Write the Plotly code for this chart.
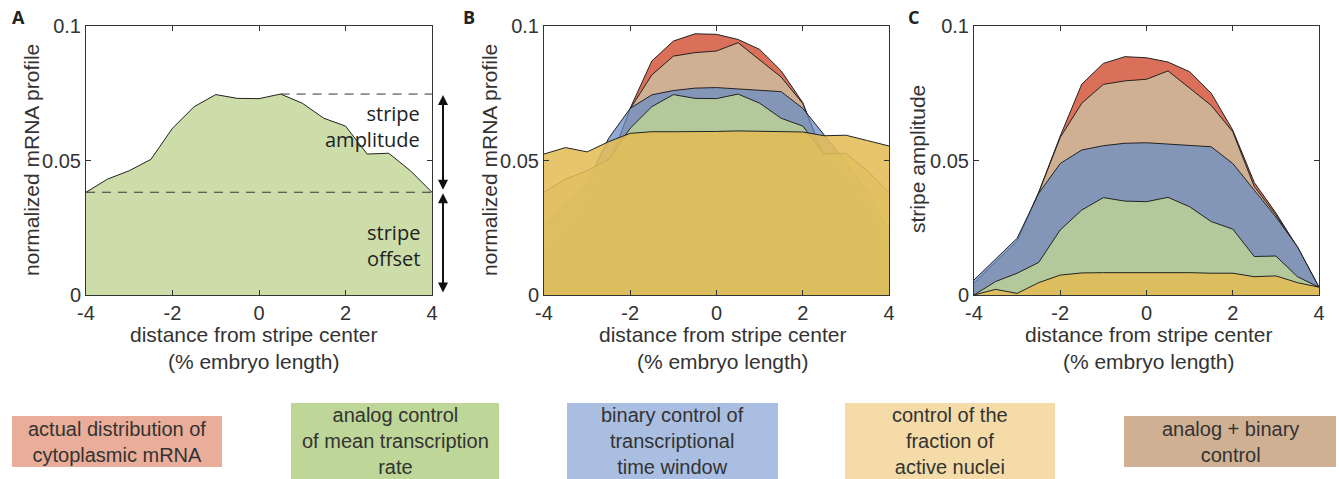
import plotly.graph_objects as go

W, H = 1339, 479

# ---------------- data ----------------
x_pos = [-4, -3.5, -3, -2.5, -2, -1.5, -1, -0.5, 0, 0.5, 1, 1.5, 2, 2.5, 3, 3.5, 4]

# Panel A / B: analog control profile
profile_analog = [0.0382, 0.0431, 0.0462, 0.0504, 0.0620, 0.0700, 0.0745, 0.0731, 0.0730,
                  0.0747, 0.0713, 0.0657, 0.0628, 0.0524, 0.0527, 0.0462, 0.0382]
stripe_offset = 0.0382
stripe_top = 0.0747
stripe_top_x = 0.5

# Panel B profiles
profile_actual = [0.0135, 0.0210, 0.0290, 0.0470, 0.0695, 0.0870, 0.0944, 0.0971, 0.0969,
                  0.0950, 0.0913, 0.0833, 0.0715, 0.0510, 0.0395, 0.0262, 0.0114]
profile_combined = [0.0150, 0.0227, 0.0305, 0.0485, 0.0692, 0.0818, 0.0888, 0.0901, 0.0907,
                    0.0938, 0.0873, 0.0810, 0.0712, 0.0508, 0.0403, 0.0282, 0.0134]
profile_binary = [0.0261, 0.0338, 0.0416, 0.0583, 0.0694, 0.0744, 0.0760, 0.0769, 0.0771,
                  0.0766, 0.0761, 0.0756, 0.0694, 0.0593, 0.0495, 0.0385, 0.0234]
profile_fraction = [0.0524, 0.0548, 0.0532, 0.0570, 0.0601, 0.0607, 0.0607, 0.0607, 0.0608,
                    0.0610, 0.0609, 0.0606, 0.0606, 0.0592, 0.0594, 0.0574, 0.0554]

# Panel C amplitudes
amp_actual = [0.0045, 0.0122, 0.0200, 0.0382, 0.0591, 0.0784, 0.0861, 0.0886, 0.0882,
              0.0866, 0.0830, 0.0750, 0.0613, 0.0418, 0.0305, 0.0178, 0.0029]
amp_combined = [0.0045, 0.0122, 0.0200, 0.0380, 0.0586, 0.0713, 0.0783, 0.0796, 0.0802,
                0.0833, 0.0768, 0.0705, 0.0607, 0.0403, 0.0298, 0.0177, 0.0029]
amp_binary = [0.0056, 0.0133, 0.0211, 0.0378, 0.0489, 0.0539, 0.0555, 0.0564, 0.0566,
              0.0561, 0.0556, 0.0551, 0.0489, 0.0388, 0.0290, 0.0180, 0.0029]
amp_analog = [0.0000, 0.0050, 0.0081, 0.0121, 0.0242, 0.0316, 0.0362, 0.0349, 0.0347,
              0.0363, 0.0328, 0.0273, 0.0245, 0.0143, 0.0145, 0.0068, 0.0029]
amp_fraction = [0.0000, 0.0021, 0.0006, 0.0046, 0.0074, 0.0082, 0.0083, 0.0083, 0.0084,
                0.0084, 0.0083, 0.0081, 0.0081, 0.0068, 0.0071, 0.0046, 0.0029]

x_ticks = [-4, -2, 0, 2, 4]
x_tick_text = ["-4", "-2", "0", "2", "4"]
y_ticks = [0, 0.05, 0.1]
y_tick_text = ["0", "0.05", "0.1"]

legend_labels = [
    "actual distribution of<br>cytoplasmic mRNA",
    "analog control<br>of mean transcription<br>rate",
    "binary control of<br>transcriptional<br>time window",
    "control of the<br>fraction of<br>active nuclei",
    "analog + binary<br>control",
]

# ---------------- styles ----------------
C_RED = "rgba(214,96,72,0.9)"
C_BROWN = "rgba(205,187,157,0.85)"
C_BLUE = "rgba(107,141,196,0.75)"
C_GREEN = "rgba(191,212,148,0.8)"
C_YELLOW = "rgba(228,188,86,0.87)"
LINE = "#222222"
TXT = "#333333"
FONT = "Arial"
FONT2 = "Open Sans"

legend_colors = ["#E9AD99", "#BED697", "#AABEE1", "#F4DBA7", "#CFB093"]
legend_boxes = [(12, 222, 416, 467), (291, 499, 403, 479), (567, 778, 403, 479),
                (845, 1055, 403, 479), (1124, 1336, 416, 467)]

fig = go.Figure()


def area(y, color, xa, ya):
    fig.add_trace(go.Scatter(x=x_pos, y=y, mode="lines", fill="tozeroy", fillcolor=color,
                             line=dict(color=LINE, width=1), xaxis=xa, yaxis=ya,
                             showlegend=False, hoverinfo="skip"))


# Panel A
area(profile_analog, C_GREEN, "x", "y")
# Panel B
for ys, col in [(profile_actual, C_RED), (profile_combined, C_BROWN), (profile_binary, C_BLUE),
                (profile_analog, C_GREEN), (profile_fraction, C_YELLOW)]:
    area(ys, col, "x2", "y2")
# Panel C
for ys, col in [(amp_actual, C_RED), (amp_combined, C_BROWN), (amp_binary, C_BLUE),
                (amp_analog, C_GREEN), (amp_fraction, C_YELLOW)]:
    area(ys, col, "x3", "y3")


def px(v):
    return v / W


def py(v):
    return 1 - v / H


Y_TOP, Y_BOT = 26, 295
ydom = [py(Y_BOT), py(Y_TOP)]
xdoms = [[px(86), px(432)], [px(544), px(889)], [px(974), px(1319)]]


def val_to_pix(v):
    return Y_BOT - v / 0.1 * (Y_BOT - Y_TOP)


axis_common = dict(showline=True, linecolor="#333333", linewidth=1, mirror="ticks",
                   ticks="inside", ticklen=5, tickcolor="#333333", showgrid=False,
                   zeroline=False, automargin=False,
                   tickfont=dict(family=FONT, size=20, color=TXT))

layout = dict(width=W, height=H, margin=dict(l=0, r=0, t=0, b=0, autoexpand=False),
              paper_bgcolor="white", plot_bgcolor="white", showlegend=False)
for i, name in enumerate(["", "2", "3"]):
    layout["xaxis" + name] = dict(domain=xdoms[i], range=[-4, 4], tickvals=x_ticks,
                                  ticktext=x_tick_text, anchor="y" + name, **axis_common)
    layout["yaxis" + name] = dict(domain=ydom, range=[0, 0.1], tickvals=y_ticks,
                                  ticktext=y_tick_text, anchor="x" + name, **axis_common)
fig.update_layout(**layout)

ann = []
# panel letters
for lab, xx in [("A", 18), ("B", 469), ("C", 913)]:
    ann.append(dict(text="<b>%s</b>" % lab, x=px(xx), y=py(17), xref="paper", yref="paper",
                    showarrow=False, font=dict(family=FONT2, size=18, color="#222"),
                    xanchor="center", yanchor="middle"))
# x axis titles
for cx in [253, 722, 1148]:
    ann.append(dict(text="distance from stripe center<br>(% embryo length)", x=px(cx),
                    y=py(348), xref="paper", yref="paper", showarrow=False,
                    font=dict(family=FONT, size=21, color=TXT),
                    xanchor="center", yanchor="middle"))
# y axis titles
for cx, cy, t in [(31, 160, "normalized mRNA profile"), (489, 160, "normalized mRNA profile"),
                  (917, 159, "stripe amplitude")]:
    ann.append(dict(text=t, x=px(cx), y=py(cy), xref="paper", yref="paper", showarrow=False,
                    textangle=-90, font=dict(family=FONT, size=21, color=TXT),
                    xanchor="center", yanchor="middle"))
# stripe labels in panel A
for t, cy in [("stripe<br>amplitude", 126), ("stripe<br>offset", 245)]:
    ann.append(dict(text=t, x=px(422), y=py(cy), xref="paper", yref="paper", showarrow=False,
                    align="right", font=dict(family=FONT2, size=20, color="#222"),
                    xanchor="right", yanchor="middle"))
# double-headed arrows (pixel placement derived from the data values)
ARROW_X = 443
for y_a, y_b in [(stripe_top, stripe_offset), (stripe_offset, 0)]:
    p_a, p_b = val_to_pix(y_a), val_to_pix(y_b)
    ann.append(dict(text="", x=px(ARROW_X), y=py(p_a), xref="paper", yref="paper",
                    axref="pixel", ayref="pixel", ax=0, ay=(p_b - p_a),
                    showarrow=True, arrowhead=2, startarrowhead=2,
                    arrowside="end+start", arrowwidth=2, arrowsize=1, startarrowsize=1,
                    arrowcolor="#111", standoff=1, startstandoff=1))
# legend boxes
shapes = []
for (x0, x1, y0, y1), col, lab in zip(legend_boxes, legend_colors, legend_labels):
    shapes.append(dict(type="rect", xref="paper", yref="paper", x0=px(x0), x1=px(x1),
                       y0=py(y1), y1=py(y0), fillcolor=col, line=dict(width=0), layer="below"))
    ann.append(dict(text=lab, x=px((x0 + x1) / 2), y=py((y0 + y1) / 2), xref="paper",
                    yref="paper", showarrow=False, align="center",
                    font=dict(family=FONT, size=20, color=TXT),
                    xanchor="center", yanchor="middle"))
# dashed guide lines in panel A
shapes.append(dict(type="line", xref="x", yref="y", x0=-4, x1=4, y0=stripe_offset,
                   y1=stripe_offset, line=dict(color="#333", width=1, dash="9px,7px")))
shapes.append(dict(type="line", xref="x", yref="y", x0=stripe_top_x, x1=4, y0=stripe_top,
                   y1=stripe_top, line=dict(color="#333", width=1, dash="9px,7px")))

fig.update_layout(annotations=ann, shapes=shapes)
fig.write_html("out.html")
